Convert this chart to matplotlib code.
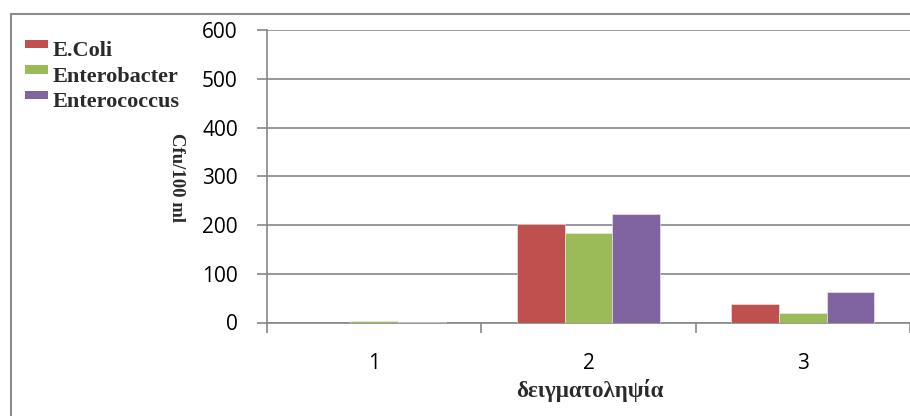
import matplotlib
matplotlib.use("Agg")
import matplotlib.pyplot as plt
from matplotlib.patches import Rectangle
import numpy as np

# Sampling rounds and bacterial counts (cfu / 100 ml)
samples = ["1", "2", "3"]
series_names = ["E.Coli", "Enterobacter", "Enterococcus"]
ecoli = [0, 203, 39]
enterobacter = [3, 183, 19]
enterococcus = [1.5, 222, 62]
y_ticks = [0, 100, 200, 300, 400, 500, 600]
colors = ["#C0504D", "#9BBB59", "#8064A2"]

W, H = 910, 416
fig = plt.figure(figsize=(W / 100, H / 100), dpi=100)
fig.patch.set_facecolor("white")

# plot area in pixel terms
x0, y_bottom, y_top = 267, 322.5, 30.3
cat_w = 218
ax = fig.add_axes([x0 / W, 1 - y_bottom / H, 1 - x0 / W, (y_bottom - y_top) / H])

grid_c = "#878787"
x = np.arange(1, len(samples) + 1)
bw = 0.2225
for i, (vals, c) in enumerate(zip([ecoli, enterobacter, enterococcus], colors)):
    ax.bar(x + (i - 1) * bw, vals, width=bw, color=c, edgecolor="#f4eeee",
           linewidth=0.4, zorder=3)

ax.set_xlim(0.5, 0.5 + (W - x0) / cat_w)
ax.set_ylim(0, 600)
ax.set_yticks(y_ticks)
ax.set_yticklabels([str(v) for v in y_ticks], fontsize=15, family="Open Sans")
ax.yaxis.grid(True, color=grid_c, linewidth=1.2, zorder=0)
ax.set_axisbelow(True)

# category labels at centers, tick marks at boundaries
ax.set_xticks(x)
ax.set_xticklabels(samples, fontsize=15, family="Open Sans")
ax.set_xticks(np.arange(0.5, len(samples) + 1.5, 1), minor=True)
ax.tick_params(axis="x", which="major", length=0, pad=22)
ax.tick_params(axis="x", which="minor", length=7, width=1.2, color=grid_c)
ax.tick_params(axis="y", length=7, width=1.2, color=grid_c, pad=14)

for s in ["top", "right"]:
    ax.spines[s].set_visible(False)
for s in ["left", "bottom"]:
    ax.spines[s].set_color(grid_c)
    ax.spines[s].set_linewidth(1.2)

serif = ["Liberation Serif", "DejaVu Serif"]
fig.text(176 / W, 1 - 178 / H, "Cfu/100 ml", rotation=-90, ha="center", va="center",
         fontsize=13.5, family=serif, fontweight="bold", color="#2a2a2a")
fig.text(590 / W, 1 - 391 / H, "δειγματοληψία", ha="center", va="center",
         fontsize=16.5, family=serif, fontweight="bold", color="#2a2a2a")

# legend
rows = [51, 76.5, 102]
for name, c, yc in zip(series_names, colors, rows):
    fig.add_artist(Rectangle((25 / W, 1 - (yc - 3) / H), 23 / W, 8 / H,
                             transform=fig.transFigure, facecolor=c, edgecolor="none"))
    fig.text(53 / W, 1 - yc / H, name, ha="left", va="center", fontsize=16,
             family=serif, fontweight="bold", color="#2a2a2a")

# outer chart frame
fig.add_artist(Rectangle((11 / W, -0.1), 1.0, 1 - 14 / H + 0.1,
                         transform=fig.transFigure, fill=False,
                         edgecolor="#8c8c8c", linewidth=1.5))

fig.savefig("out.png", dpi=100)
